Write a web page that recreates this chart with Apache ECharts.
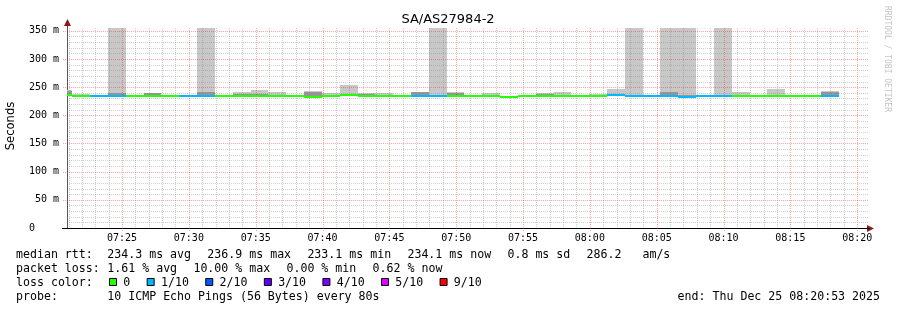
<!DOCTYPE html>
<html><head><meta charset="utf-8">
<script src="https://cdn.jsdelivr.net/npm/echarts@6/dist/echarts.min.js"></script>
<style>html,body{margin:0;padding:0;background:#fff}#c{width:897px;height:310px}</style>
</head><body><div id="c"></div>
<script>
// ---- data ----
const TITLE = 'SA/AS27984-2';
const AXIS_START_MIN = 20 + 53 / 60;   // 07:20:53 (minutes after 07:00)
const AXIS_END_MIN = 80 + 53 / 60;     // 08:20:53
const FIRST_STEP_MIN = 19 + 57 / 60;   // first 80 s step starts 07:19:57
const STEP_MIN = 80 / 60;
const Y_MAX = 355;                     // top of plot (lost pings reach it)
const xTickMinutes = [25, 30, 35, 40, 45, 50, 55, 60, 65, 70, 75, 80];
const yTicks = [0, 50, 100, 150, 200, 250, 300, 350];

// per 80 s step
const medianRtt = [236.5, 233.5, 234, 234, 235, 234.5, 235, 234, 234, 234.5,
  234, 234.5, 234, 234, 232.5, 234.5, 235.5, 234.5, 234.5, 235,
  234, 234, 235, 234, 234.5, 232.5, 234, 233.8, 235, 234.5,
  234.5, 235.5, 234, 235, 234.5, 233, 234.5, 234.5, 234.5, 234.5,
  234.5, 234.5, 234.5, 234];
const lossIdx = [0, 0, 1, 1, 0, 0, 0, 1, 1, 0,
  0, 0, 0, 0, 0, 0, 0, 0, 0, 0,
  1, 1, 0, 0, 0, 0, 0, 0, 0, 0,
  0, 1, 1, 1, 1, 1, 1, 1, 0, 0,
  0, 0, 0, 1];
const smokeLightTop = [245, 237.5, null, 355, null, null, 236.5, null, 355, null,
  241.5, 245, 241.5, null, 244, 240, 253, 240, 239, null,
  242, 355, 241, null, 239, null, null, 239, 241, null,
  238, 246, 355, null, 355, 355, null, 355, 241, null,
  246, null, null, 244];
const smokeDarkTop = [243, null, null, 240, null, 240, null, null, 242, null,
  237, 238, null, null, 241, null, 238, 238, null, null,
  241, 236, 239, null, null, null, null, 237, null, null,
  null, null, 236, null, 242, 236, null, 236, null, null,
  null, null, null, 242];

const lossColors = ['#26ff00', '#00b8ff', '#0059ff', '#5e00ff', '#7e00ff', '#dd00ff', '#ff0000'];
const lossLabels = ['0', '1/10', '2/10', '3/10', '4/10', '5/10', '9/10'];
const rttStats = ['234.3 ms avg', '236.9 ms max', '233.1 ms min', '234.1 ms now', '0.8 ms sd', '286.2   am/s'];
const lossStats = ['1.61 % avg', '10.00 % max', '0.00 % min', '0.62 % now'];
const probeText = '10 ICMP Echo Pings (56 Bytes) every 80s';
const endText = 'end: Thu Dec 25 08:20:53 2025';

// ---- styles ----
const MONO = '"DejaVu Sans Mono", monospace';
const LEG_FONT = '11.6px ' + MONO;
const CHAR_W = 6.97, GAP = 16.4;
const MAJOR = 'rgba(255,0,0,0.35)';
const MINOR = 'rgba(120,120,120,0.35)';
const ARROW = '#8b1a1a';

const steps = medianRtt.map((m, k) => [
  FIRST_STEP_MIN + k * STEP_MIN, FIRST_STEP_MIN + (k + 1) * STEP_MIN, m,
  smokeLightTop[k] == null ? 0 : smokeLightTop[k],
  smokeDarkTop[k] == null ? 0 : smokeDarkTop[k],
  lossIdx[k]
]);
const gridMinutes = [];
for (let m = Math.ceil(AXIS_START_MIN); m <= Math.floor(AXIS_END_MIN); m++) gridMinutes.push([m, 0]);
const gridValues = [];
for (let v = 10; v < Y_MAX; v += 10) gridValues.push([AXIS_START_MIN, v]);

function xSpan(api, cs, t0, t1) {
  let xa = Math.round(api.coord([t0, 0])[0]), xb = Math.round(api.coord([t1, 0])[0]);
  return [Math.max(xa, cs.x), Math.min(xb, cs.x + cs.width)];
}
function renderSmoke(params, api) {
  const cs = params.coordSys;
  const [xa, xb] = xSpan(api, cs, api.value(0), api.value(1));
  const med = api.value(2), light = api.value(3), dark = api.value(4);
  const ym = Math.round(api.coord([0, med])[1]);
  const kids = [];
  if (light > med) {
    const yt = Math.round(api.coord([0, Math.min(light, Y_MAX)])[1]);
    kids.push({type: 'rect', shape: {x: xa, y: yt, width: xb - xa, height: ym - yt}, style: {fill: '#c8c8c8'}});
  }
  if (dark > med) {
    const yt = Math.round(api.coord([0, dark])[1]);
    kids.push({type: 'rect', shape: {x: xa, y: yt, width: xb - xa, height: ym - yt}, style: {fill: '#979797'}});
  }
  return {type: 'group', children: kids};
}
function renderMedian(params, api) {
  const cs = params.coordSys;
  const [xa, xb] = xSpan(api, cs, api.value(0), api.value(1));
  const ym = Math.round(api.coord([0, api.value(2)])[1]);
  return {type: 'rect', shape: {x: xa, y: ym - 1, width: xb - xa, height: 2}, style: {fill: lossColors[api.value(5)]}};
}
function renderVGrid(params, api) {
  const cs = params.coordSys, m = api.value(0);
  const x = Math.round(api.coord([m, 0])[0]) + 0.5;
  const major = m % 5 === 0;
  return {type: 'line', shape: {x1: x, y1: cs.y, x2: x, y2: cs.y + cs.height + (major ? 3 : 0)},
    style: {stroke: major ? MAJOR : MINOR, lineWidth: 1, lineDash: [1, 1]}};
}
function renderHGrid(params, api) {
  const cs = params.coordSys, v = api.value(1);
  const y = Math.round(api.coord([0, v])[1]) + 0.5;
  const major = v % 50 === 0;
  return {type: 'line', shape: {x1: cs.x - (major ? 4 : 0), y1: y, x2: cs.x + cs.width, y2: y},
    style: {stroke: major ? MAJOR : MINOR, lineWidth: 1, lineDash: [1, 1]}};
}
function fmtTime(m) {
  const h = 7 + Math.floor(m / 60), mm = Math.round(m % 60);
  return String(h).padStart(2, '0') + ':' + String(mm).padStart(2, '0');
}

// ---- bottom legend as graphic text ----
const graphics = [];
function txt(x, y, s, font, extra) {
  graphics.push(Object.assign({type: 'text', x: x, y: y, silent: true,
    style: {text: s, font: font || LEG_FONT, fill: '#000', align: 'left', verticalAlign: 'middle'}}, extra || {}));
}
const L1 = 254.5, L2 = 268.5, L3 = 282.5, L4 = 296.5, COL = 107.3;
txt(16, L1, 'median rtt:');
let xx = COL;
rttStats.forEach(s => { txt(xx, L1, s); xx += s.length * CHAR_W + GAP; });
txt(16, L2, 'packet loss:');
xx = COL;
lossStats.forEach(s => { txt(xx, L2, s); xx += s.length * CHAR_W + GAP; });
txt(16, L3, 'loss color:');
xx = 109;
lossLabels.forEach((s, i) => {
  graphics.push({type: 'rect', silent: true, shape: {x: xx + 0.5, y: 278.5, width: 7, height: 7},
    style: {fill: lossColors[i], stroke: '#000', lineWidth: 1}});
  txt(xx + 14.3, L3, s);
  xx += 14.3 + s.length * CHAR_W + GAP;
});
txt(16, L4, 'probe:');
txt(COL, L4, probeText);
graphics.push({type: 'text', x: 880, y: L4, silent: true,
  style: {text: endText, font: LEG_FONT, fill: '#000', align: 'right', verticalAlign: 'middle'}});
// title, unit, watermark
graphics.push({type: 'text', x: 448, y: 20, silent: true,
  style: {text: TITLE, font: '13px "DejaVu Sans"', fill: '#000', align: 'center', verticalAlign: 'middle'}});
graphics.push({type: 'text', x: 11, y: 126, rotation: Math.PI / 2, silent: true,
  style: {text: 'Seconds', font: '11.6px "DejaVu Sans"', fill: '#000', align: 'center', verticalAlign: 'middle'}});
graphics.push({type: 'text', x: 887, y: 59, rotation: -Math.PI / 2, silent: true,
  style: {text: 'RRDTOOL / TOBI OETIKER', font: '8px ' + MONO, fill: '#c4c4c4', align: 'center', verticalAlign: 'middle'}});
// axis arrows and left extension of x axis
graphics.push({type: 'polygon', silent: true, shape: {points: [[67.5, 19], [64, 26], [71, 26]]}, style: {fill: ARROW}});
graphics.push({type: 'polygon', silent: true, shape: {points: [[874, 228.5], [867, 225], [867, 232]]}, style: {fill: ARROW}});
graphics.push({type: 'line', silent: true, shape: {x1: 62, y1: 228.5, x2: 67, y2: 228.5}, style: {stroke: '#000', lineWidth: 1}});
graphics.push({type: 'line', silent: true, shape: {x1: 67.5, y1: 26, x2: 67.5, y2: 28}, style: {stroke: '#555', lineWidth: 1}});
graphics.push({type: 'line', silent: true, shape: {x1: 868, y1: 228.5, x2: 868, y2: 228.5}, style: {stroke: '#000', lineWidth: 1}});

const chart = echarts.init(document.getElementById('c'), null, {renderer: 'canvas', width: 897, height: 310});
chart.setOption({
  animation: false,
  backgroundColor: '#ffffff',
  grid: {left: 67, right: 28, top: 28, bottom: 82},
  xAxis: {
    type: 'value', min: AXIS_START_MIN, max: AXIS_END_MIN, splitNumber: 12,
    axisLine: {show: true, onZero: false, lineStyle: {color: '#000', width: 1}},
    axisTick: {show: false}, splitLine: {show: false},
    axisLabel: {customValues: xTickMinutes, formatter: fmtTime, fontFamily: MONO, fontSize: 10, color: '#000', margin: 5,
      showMinLabel: true, showMaxLabel: true}
  },
  yAxis: {
    type: 'value', min: 0, max: Y_MAX, interval: 50,
    axisLine: {show: true, onZero: false, lineStyle: {color: '#555', width: 1}},
    axisTick: {show: false}, splitLine: {show: false},
    axisLabel: {customValues: yTicks, formatter: v => v === 0 ? '0    ' : v + ' m', fontFamily: MONO, fontSize: 10, color: '#000', margin: 8}
  },
  graphic: graphics,
  series: [
    {type: 'custom', name: 'smoke', renderItem: renderSmoke, data: steps, z: 2, silent: true, encode: {x: [0, 1], y: 2}},
    {type: 'custom', name: 'vgrid', renderItem: renderVGrid, data: gridMinutes, z: 3, silent: true, encode: {x: 0, y: 1}},
    {type: 'custom', name: 'hgrid', renderItem: renderHGrid, data: gridValues, z: 3, silent: true, encode: {x: 0, y: 1}},
    {type: 'custom', name: 'median', renderItem: renderMedian, data: steps, z: 4, silent: true, encode: {x: [0, 1], y: 2}}
  ]
});
</script></body></html>
